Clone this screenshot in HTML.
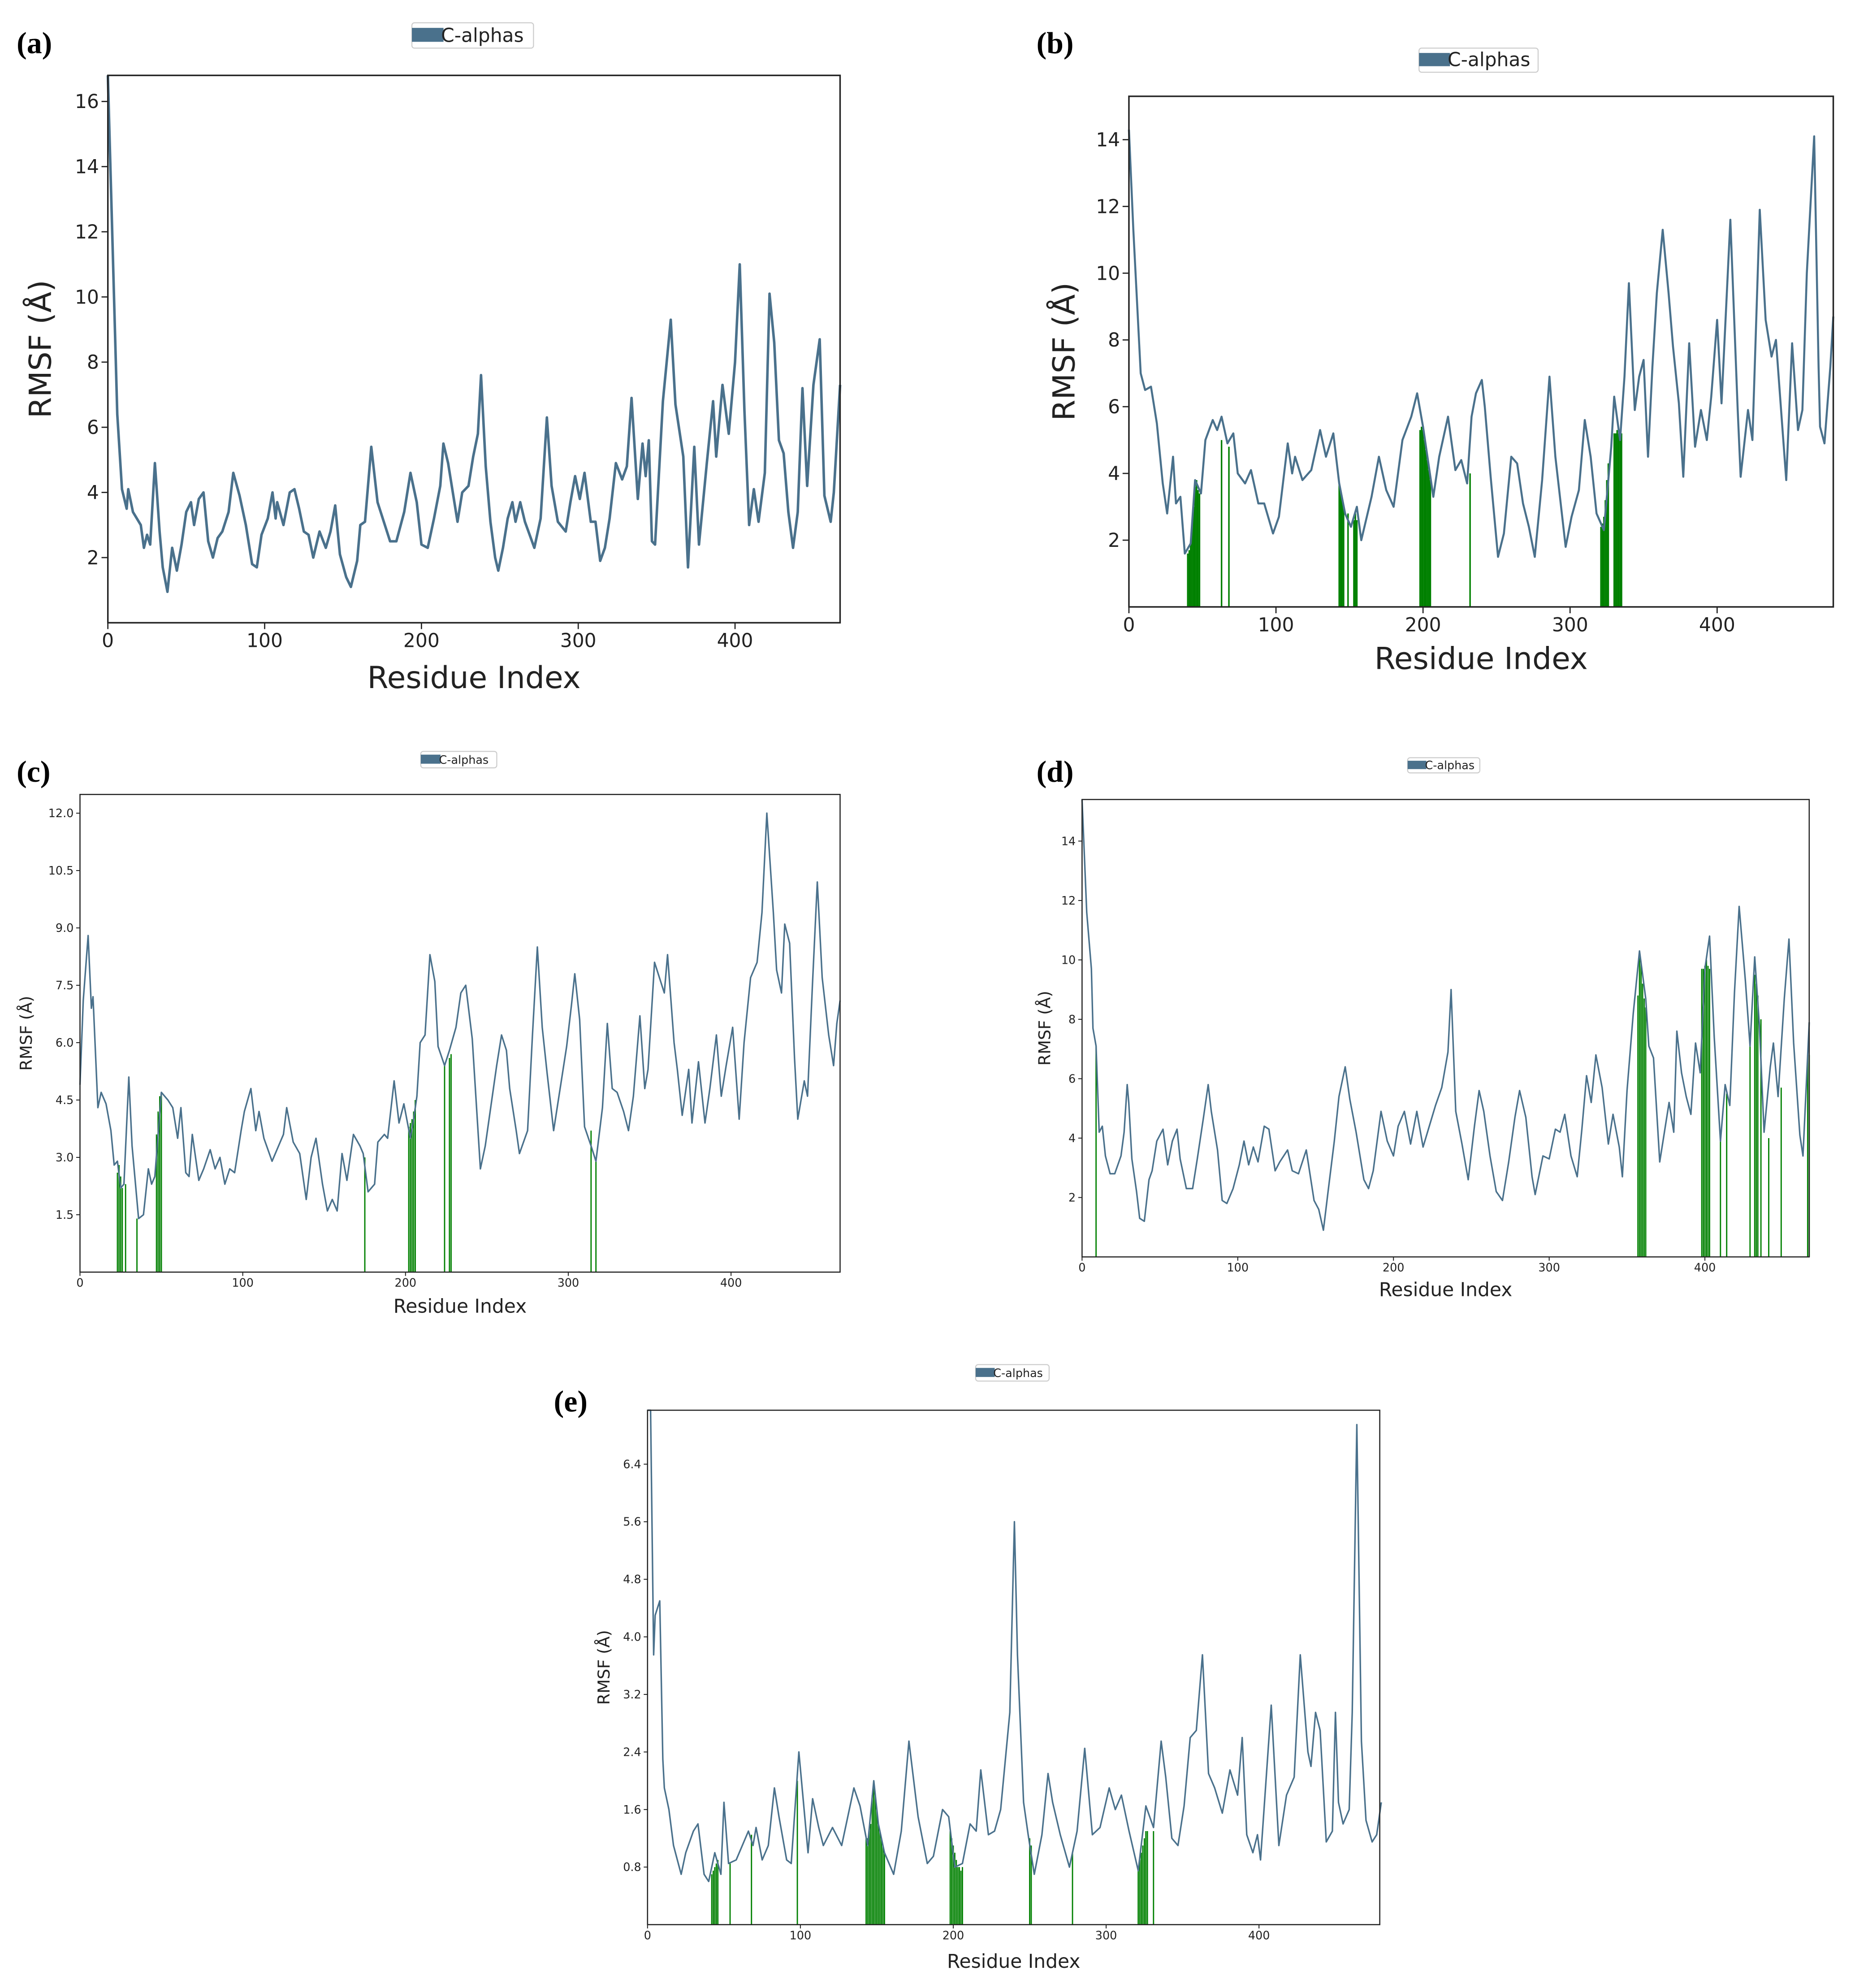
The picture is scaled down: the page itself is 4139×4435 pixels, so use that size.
<!DOCTYPE html>
<html><head><meta charset="utf-8"><style>
html,body{margin:0;padding:0;background:#fff;}
svg{display:block;}
text{font-family:"DejaVu Sans","Liberation Sans",sans-serif;fill:#222;}
.pl{font-family:"Liberation Serif",serif;font-weight:bold;fill:#000;}
</style></head><body>
<svg id="fig" width="4139" height="4435" viewBox="0 0 1464 1569" xmlns="http://www.w3.org/2000/svg"></svg>
<script>
// ---- Panel (a) data ----
const aRes=[0,6,9,12,13,16,21,23,25,27,30,33,35,38,41,44,47,50,53,55,58,61,64,67,70,73,77,80,84,88,92,95,98,102,105,107,108,112,116,119,122,125,128,131,135,139,142,145,148,152,155,159,161,164,168,172,176,180,184,189,193,197,200,204,208,212,214,217,221,223,226,230,233,236,238,241,244,247,249,252,255,258,260,263,266,269,272,276,280,283,287,292,295,298,301,304,308,311,314,317,320,324,328,331,334,338,341,343,345,347,349,354,359,362,367,370,374,377,382,386,388,392,396,400,403,406,409,412,415,419,422,425,428,431,434,437,440,443,446,450,454,457,461,463,467];
const aVal=[16.8,6.4,4.1,3.5,4.1,3.4,3.0,2.3,2.7,2.4,4.9,2.8,1.7,0.95,2.3,1.6,2.4,3.4,3.7,3.0,3.8,4.0,2.5,2.0,2.6,2.8,3.4,4.6,3.9,3.0,1.8,1.7,2.7,3.2,4.0,3.2,3.7,3.0,4.0,4.1,3.5,2.8,2.7,2.0,2.8,2.3,2.8,3.6,2.1,1.4,1.1,1.9,3.0,3.1,5.4,3.7,3.1,2.5,2.5,3.4,4.6,3.7,2.4,2.3,3.2,4.2,5.5,4.9,3.7,3.1,4.0,4.2,5.1,5.8,7.6,4.8,3.1,2.0,1.6,2.3,3.2,3.7,3.1,3.7,3.1,2.7,2.3,3.2,6.3,4.2,3.1,2.8,3.7,4.5,3.8,4.6,3.1,3.1,1.9,2.3,3.2,4.9,4.4,4.8,6.9,3.8,5.5,4.5,5.6,2.5,2.4,6.8,9.3,6.7,5.1,1.7,5.4,2.4,4.9,6.8,5.1,7.3,5.8,8.0,11.0,6.5,3.0,4.1,3.1,4.6,10.1,8.6,5.6,5.2,3.4,2.3,3.4,7.2,4.2,7.3,8.7,3.9,3.1,4.0,7.3];
const aYTicks=[2,4,6,8,10,12,14,16];
const aXTicks=[0,100,200,300,400];
const aBarRes=[];
const aBarVal=[];
// ---- Panel (b) data ----
const bRes=[0,3,8,11,15,19,23,26,30,32,35,38,42,45,49,52,57,60,63,67,71,74,79,83,88,92,98,102,108,111,113,118,124,130,134,139,143,147,151,155,158,165,170,175,180,186,192,196,200,204,207,211,217,222,226,230,233,236,240,242,246,251,255,260,264,268,272,276,281,286,290,297,301,306,310,314,318,323,328,330,334,337,340,344,347,350,353,356,359,363,367,370,374,377,381,385,389,393,396,400,403,409,414,416,421,424,429,433,437,440,444,447,451,455,458,461,466,469,470,473,477,479];
const bVal=[14.3,11.3,7.0,6.5,6.6,5.5,3.7,2.8,4.5,3.1,3.3,1.6,1.9,3.8,3.4,5.0,5.6,5.3,5.7,4.9,5.2,4.0,3.7,4.1,3.1,3.1,2.2,2.7,4.9,4.0,4.5,3.8,4.1,5.3,4.5,5.2,3.7,2.8,2.4,3.0,2.0,3.3,4.5,3.5,3.0,5.0,5.7,6.4,5.4,4.2,3.3,4.5,5.7,4.1,4.4,3.7,5.7,6.4,6.8,6.0,3.9,1.5,2.2,4.5,4.3,3.1,2.4,1.5,3.8,6.9,4.5,1.8,2.7,3.5,5.6,4.5,2.8,2.3,4.8,6.3,5.0,6.9,9.7,5.9,6.9,7.4,4.5,7.2,9.4,11.3,9.4,7.8,6.1,3.9,7.9,4.8,5.9,5.0,6.3,8.6,6.1,11.6,5.9,3.9,5.9,5.0,11.9,8.6,7.5,8.0,5.6,3.8,7.9,5.3,5.9,10.0,14.1,7.2,5.4,4.9,7.2,8.7];
const bYTicks=[2,4,6,8,10,12,14];
const bXTicks=[0,100,200,300,400];
const bBarRes=[40,41,42,43,44,45,46,47,48,63,68,143,144,145,146,149,153,154,155,198,199,200,201,202,203,204,205,232,321,322,323,324,325,326,330,331,332,333,334,335];
const bBarVal=[1.6,1.7,1.9,2.5,3.0,3.6,3.8,3.5,3.4,5.0,4.8,3.7,3.5,3.2,3.0,2.8,2.6,2.8,2.6,5.3,5.4,5.3,5.0,4.7,4.4,4.1,3.8,4.0,2.4,2.5,2.7,3.2,3.8,4.3,5.2,5.2,5.3,5.2,5.1,5.2];
// ---- Panel (c) data ----
const cRes=[0,2,5,7,8,11,13,16,19,21,23,25,27,30,32,36,39,42,44,46,50,54,57,60,62,65,67,69,73,76,80,83,86,89,92,95,99,101,105,108,110,113,118,122,125,127,131,135,139,142,145,149,152,155,158,161,164,168,172,174,177,181,183,187,189,193,196,199,203,205,207,209,212,215,218,220,224,227,231,234,237,241,246,249,253,256,259,262,264,268,270,275,278,281,284,287,291,295,299,302,304,307,310,314,317,321,324,327,330,334,337,340,344,347,349,353,356,359,361,365,367,370,374,376,380,384,387,391,394,397,401,405,408,412,416,419,422,426,428,431,433,436,439,441,445,447,450,453,456,460,463,465,467];
const cVal=[4.9,7.1,8.8,6.9,7.2,4.3,4.7,4.4,3.7,2.8,2.9,2.2,2.3,5.1,3.3,1.4,1.5,2.7,2.3,2.5,4.7,4.5,4.3,3.5,4.3,2.6,2.5,3.6,2.4,2.7,3.2,2.7,3.0,2.3,2.7,2.6,3.7,4.2,4.8,3.7,4.2,3.5,2.9,3.3,3.6,4.3,3.4,3.1,1.9,3.0,3.5,2.3,1.6,1.9,1.6,3.1,2.4,3.6,3.3,3.1,2.1,2.3,3.4,3.6,3.5,5.0,3.9,4.4,3.5,4.0,4.6,6.0,6.2,8.3,7.6,5.9,5.4,5.8,6.4,7.3,7.5,6.1,2.7,3.3,4.5,5.4,6.2,5.8,4.8,3.7,3.1,3.7,6.2,8.5,6.4,5.2,3.7,4.8,5.9,7.0,7.8,6.6,3.8,3.3,2.9,4.3,6.5,4.8,4.7,4.2,3.7,4.6,6.7,4.8,5.3,8.1,7.7,7.3,8.3,6.0,5.3,4.1,5.3,3.9,5.5,3.9,4.8,6.2,4.6,5.4,6.4,4.0,6.0,7.7,8.1,9.4,12.0,9.4,7.9,7.3,9.1,8.6,5.6,4.0,5.0,4.6,7.5,10.2,7.7,6.2,5.4,6.5,7.1];
const cYTicks=[1.5,3.0,4.5,6.0,7.5,9.0,10.5,12.0];
const cXTicks=[0,100,200,300,400];
const cBarRes=[23,24,25,26,28,35,47,48,49,50,175,202,203,204,205,206,224,227,228,314,317];
const cBarVal=[2.6,2.8,2.5,2.2,2.3,1.4,3.6,4.2,4.6,4.7,3.0,3.8,3.9,4.0,4.2,4.5,5.4,5.6,5.7,3.7,3.0];
// ---- Panel (d) data ----
const dRes=[0,3,6,7,9,11,13,15,18,21,25,27,29,30,32,35,37,40,43,45,48,52,55,58,61,63,67,71,74,78,81,83,87,90,93,97,101,104,107,110,113,117,120,124,127,132,135,139,144,149,152,155,158,162,165,169,172,176,181,184,187,192,196,200,203,207,211,215,219,223,227,231,235,237,240,244,248,252,255,258,262,266,270,274,278,281,285,289,291,296,300,304,307,310,314,318,321,324,327,330,334,338,341,345,347,350,354,358,362,364,367,371,374,377,380,382,385,388,391,394,397,400,403,406,410,413,416,419,422,426,429,432,435,438,442,444,447,451,454,457,461,463,467];
const dVal=[15.4,11.6,9.7,7.7,7.1,4.2,4.4,3.4,2.8,2.8,3.4,4.2,5.8,5.2,3.3,2.2,1.3,1.2,2.6,2.9,3.9,4.3,3.1,3.9,4.3,3.3,2.3,2.3,3.3,4.7,5.8,4.9,3.6,1.9,1.8,2.3,3.1,3.9,3.1,3.7,3.2,4.4,4.3,2.9,3.2,3.6,2.9,2.8,3.6,1.9,1.6,0.9,2.2,3.9,5.4,6.4,5.3,4.2,2.6,2.3,2.9,4.9,3.9,3.4,4.4,4.9,3.8,4.9,3.7,4.4,5.1,5.7,6.9,9.0,4.9,3.8,2.6,4.4,5.6,4.9,3.4,2.2,1.9,3.2,4.7,5.6,4.7,2.7,2.1,3.4,3.3,4.3,4.2,4.8,3.4,2.7,4.3,6.1,5.2,6.8,5.7,3.8,4.8,3.7,2.7,5.6,8.2,10.3,8.7,7.1,6.7,3.2,4.2,5.2,4.2,7.6,6.2,5.4,4.8,7.2,6.2,9.7,10.8,7.4,3.9,5.8,5.1,8.9,11.8,9.3,7.1,10.1,7.8,4.2,6.4,7.2,5.4,8.7,10.7,7.2,4.1,3.4,7.9];
const dYTicks=[2,4,6,8,10,12,14];
const dXTicks=[0,100,200,300,400];
const dBarRes=[9,357,358,359,360,361,362,398,399,400,401,402,403,410,414,429,432,433,434,436,441,449,466,467];
const dBarVal=[7.1,8.8,10.3,9.9,9.2,8.7,8.4,9.7,9.7,9.8,10.0,9.8,9.7,4.0,5.5,7.5,9.5,9.2,8.8,8.0,4.0,5.7,6.8,6.8];
// ---- Panel (e) data ----
const eRes=[0,2,4,5,8,10,11,14,17,22,25,30,33,37,40,44,48,50,53,58,62,66,69,71,75,79,83,86,91,94,99,105,108,112,115,121,127,135,139,144,148,151,155,161,166,171,177,183,187,193,197,201,206,211,215,218,223,227,231,237,240,242,246,249,253,258,262,265,270,276,281,286,291,296,302,306,310,315,321,326,331,336,339,343,347,351,355,359,363,367,371,376,381,386,389,392,396,399,401,408,413,418,423,427,432,434,437,440,444,448,450,452,455,459,461,464,467,470,474,477,480];
const eVal=[7.2,7.2,3.75,4.3,4.5,2.3,1.9,1.6,1.1,0.7,1.0,1.3,1.4,0.7,0.6,1.0,0.7,1.7,0.85,0.9,1.1,1.3,1.1,1.35,0.9,1.1,1.9,1.5,0.9,0.85,2.4,1.0,1.75,1.35,1.1,1.35,1.1,1.9,1.65,1.1,2.0,1.4,1.0,0.7,1.3,2.55,1.5,0.85,0.95,1.6,1.5,0.8,0.85,1.4,1.3,2.15,1.25,1.3,1.6,2.95,5.6,3.75,1.7,1.25,0.7,1.25,2.1,1.7,1.25,0.8,1.3,2.45,1.25,1.35,1.9,1.6,1.8,1.3,0.75,1.65,1.35,2.55,2.05,1.2,1.1,1.65,2.6,2.7,3.75,2.1,1.9,1.55,2.15,1.8,2.6,1.25,1.0,1.25,0.9,3.05,1.1,1.8,2.05,3.75,2.4,2.2,2.95,2.7,1.15,1.3,2.95,1.7,1.4,1.6,2.95,6.95,2.55,1.45,1.15,1.25,1.7];
const eYTicks=[0.8,1.6,2.4,3.2,4.0,4.8,5.6,6.4];
const eXTicks=[0,100,200,300,400];
const eBarRes=[42,43,44,45,46,54,68,98,143,144,145,146,147,148,149,150,151,152,153,154,155,198,199,200,201,202,203,204,205,206,250,251,278,321,322,323,324,325,326,327,331];
const eBarVal=[0.7,0.75,0.8,0.85,0.9,0.85,1.25,2.0,1.2,1.2,1.3,1.4,1.8,1.9,1.8,1.6,1.4,1.3,1.2,1.1,1.0,1.3,1.2,1.1,1.0,0.9,0.8,0.8,0.75,0.8,1.2,1.1,1.0,0.8,0.9,1.0,1.1,1.2,1.3,1.3,1.3];

const NS='http://www.w3.org/2000/svg';
const svg=document.getElementById('fig');
function mk(tag,attrs,parent,txt){const e=document.createElementNS(NS,tag);for(const k in attrs)e.setAttribute(k,attrs[k]);if(txt!==undefined)e.textContent=txt;(parent||svg).appendChild(e);return e;}

function panel(cfg,res,val,yt,xt,bres,bval){
  const g=mk('g',{});
  
  
  const xs=v=>cfg.L+(v-cfg.x0)/(cfg.x1-cfg.x0)*(cfg.R-cfg.L);
  const ys=v=>cfg.B-(v-cfg.y0)/(cfg.y1-cfg.y0)*(cfg.B-cfg.T);
  // green bars
  for(let i=0;i<bres.length;i++){
    const b=mk('line',{x1:xs(bres[i]),x2:xs(bres[i]),y1:cfg.B,y2:ys(bval[i]),stroke:'#008000','stroke-width':cfg.bw},g);
    
    
  }
  // line
  let d='';
  for(let i=0;i<res.length;i++){d+=(i?'L':'M')+xs(res[i]).toFixed(2)+' '+ys(Math.min(val[i],cfg.y1)).toFixed(2);}
  const p=mk('path',{d:d,fill:'none',stroke:'#4a718c','stroke-width':cfg.lw,'stroke-linejoin':'round'},g);
  
  
  // frame
  const f=mk('rect',{x:cfg.L,y:cfg.T,width:cfg.R-cfg.L,height:cfg.B-cfg.T,fill:'none',stroke:'#222','stroke-width':cfg.fw},g);
  
  
  // y ticks
  for(const t of yt){
    const y=ys(t);
    mk('line',{x1:cfg.L-cfg.tl,x2:cfg.L,y1:y,y2:y,stroke:'#222','stroke-width':cfg.fw*0.8},g);
    const tx=mk('text',{x:cfg.L-cfg.tl-2,y:y+cfg.tf*0.35,'font-size':cfg.tf,'text-anchor':'end'},g,cfg.dec?t.toFixed(1):String(t));
    
    
  }
  for(const t of xt){
    const x=xs(t);
    mk('line',{x1:x,x2:x,y1:cfg.B,y2:cfg.B+cfg.tl,stroke:'#222','stroke-width':cfg.fw*0.8},g);
    const tx=mk('text',{x:x,y:cfg.B+cfg.tl+cfg.tf*0.95,'font-size':cfg.tf,'text-anchor':'middle'},g,String(t));
    
    
  }
  const xl=mk('text',{x:(cfg.L+cfg.R)/2,y:cfg.xly,'font-size':cfg.lf,'text-anchor':'middle'},g,'Residue Index');
  
  
  const yl=mk('text',{x:0,y:0,'font-size':cfg.ylf,'text-anchor':'middle',transform:'translate('+cfg.ylx+','+(cfg.T+cfg.B)/2+') rotate(-90)'},g,'RMSF (Å)');
  
  
  const pl=mk('text',{x:cfg.px,y:cfg.py,'font-size':24,'class':'pl'},g,'('+cfg.id+')');
  
  
  // legend
  const lg=mk('g',{},g);
  
  
  const lgw=cfg.lgw,lgh=cfg.lgh;
  mk('rect',{x:cfg.lgx,y:cfg.lgy,width:lgw,height:lgh,rx:2,fill:'#fff',stroke:'#ccc','stroke-width':0.8},lg);
  mk('rect',{x:cfg.lgx,y:cfg.lgy+lgh*0.2,width:lgw*0.26,height:lgh*0.55,fill:'#4a718c'},lg);
  const lt=mk('text',{x:cfg.lgx+lgw*0.24,y:cfg.lgy+lgh*0.75,'font-size':cfg.lgf},lg,'C-alphas');
  
  
}

panel({id:'a',L:85,R:663,T:59.5,B:491.5,x0:0,x1:467,y0:0,y1:16.8,lw:2,bw:1,fw:1.2,tl:5,tf:15,lf:24,ylf:24,ylx:40,xly:543,px:13,py:42,lgx:325,lgy:18,lgw:96,lgh:20,lgf:15},aRes,aVal,aYTicks,aXTicks,aBarRes,aBarVal);
panel({id:'b',L:891,R:1447,T:76,B:479,x0:0,x1:479,y0:0,y1:15.3,lw:1.6,bw:1.2,fw:1.2,tl:5,tf:15,lf:24,ylf:24,ylx:848,xly:528,px:818,py:42,lgx:1120,lgy:38,lgw:94,lgh:19,lgf:15},bRes,bVal,bYTicks,bXTicks,bBarRes,bBarVal);
panel({id:'c',L:63,R:663,T:627,B:1004,x0:0,x1:467,y0:0,y1:12.49,dec:true,lw:1.2,bw:1,fw:0.9,tl:3,tf:9,lf:15,ylf:13,ylx:25,xly:1036,px:13,py:617,lgx:332,lgy:593,lgw:60,lgh:13,lgf:9},cRes,cVal,cYTicks,cXTicks,cBarRes,cBarVal);
panel({id:'d',L:854,R:1428,T:631,B:992,x0:0,x1:467,y0:0,y1:15.4,lw:1.2,bw:1,fw:0.9,tl:3,tf:9,lf:15,ylf:13,ylx:829,xly:1023,px:818,py:617,lgx:1111,lgy:598,lgw:57,lgh:12,lgf:9},dRes,dVal,dYTicks,dXTicks,dBarRes,dBarVal);
panel({id:'e',L:511,R:1089,T:1113,B:1519,x0:0,x1:479,y0:0,y1:7.15,dec:true,lw:1.2,bw:1,fw:0.9,tl:3,tf:9,lf:15,ylf:13,ylx:481,xly:1553,px:437,py:1114,lgx:770,lgy:1077,lgw:58,lgh:13,lgf:9},eRes,eVal,eYTicks,eXTicks,eBarRes,eBarVal);
</script>
</body></html>
